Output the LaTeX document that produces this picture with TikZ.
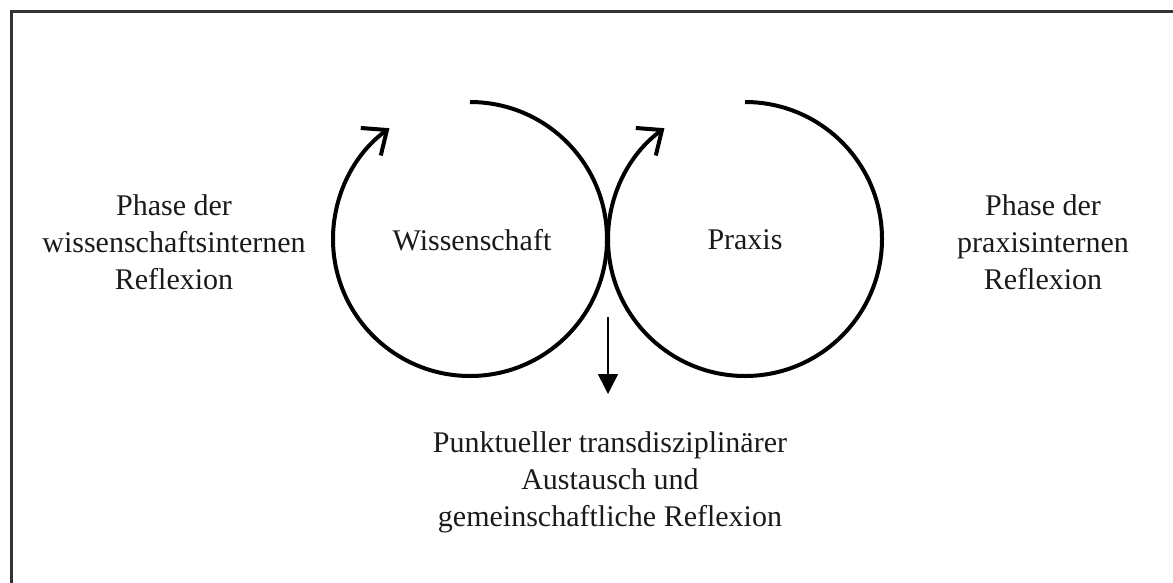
\documentclass[tikz,border=0pt]{standalone}
\usepackage{fontspec}
\setmainfont{Liberation Serif}
\usetikzlibrary{arrows.meta}
\definecolor{txt}{HTML}{1A1A1A}
\definecolor{frame}{HTML}{333333}
\tikzset{
  lbl/.style={align=center, text=txt, font=\fontsize{30}{37}\selectfont, inner sep=0pt},
  cyc/.style={line width=4pt, draw=black, -{Straight Barb[length=20pt,width=34pt,line width=4pt]}},
  down/.style={line width=1.5pt, draw=black, -{Triangle[length=20pt,width=20pt]}}
}
\begin{document}
\begin{tikzpicture}[x=1pt,y=1pt]
\useasboundingbox (0,0) rectangle (1173,-582);
\draw[frame, line width=3pt] (11,-600) -- (11,-11) -- (1190,-11);
% cycles
\draw[cyc] (470,-102) arc[start angle=90, end angle=-234, radius=137];
\draw[cyc] (745,-102) arc[start angle=90, end angle=-234, radius=137];
% labels
\node[lbl] (w) at (472,-240) {Wissenschaft};
\node[lbl] (p) at (745,-240) {Praxis};
\node[lbl] (lw) at (174,-242) {Phase der\\wissenschaftsinternen\\Reflexion};
\node[lbl] (rp) at (1043,-242) {Phase der\\praxisinternen\\Reflexion};
\node[lbl] (ex) at (610,-482) {Punktueller transdisziplinärer\\Austausch und\\gemeinschaftliche Reflexion};
% exchange arrow
\coordinate (a1) at (608,-317);
\coordinate (a2) at (608,-394);
\draw[down] (a1) -- (a2);
\end{tikzpicture}
\end{document}
